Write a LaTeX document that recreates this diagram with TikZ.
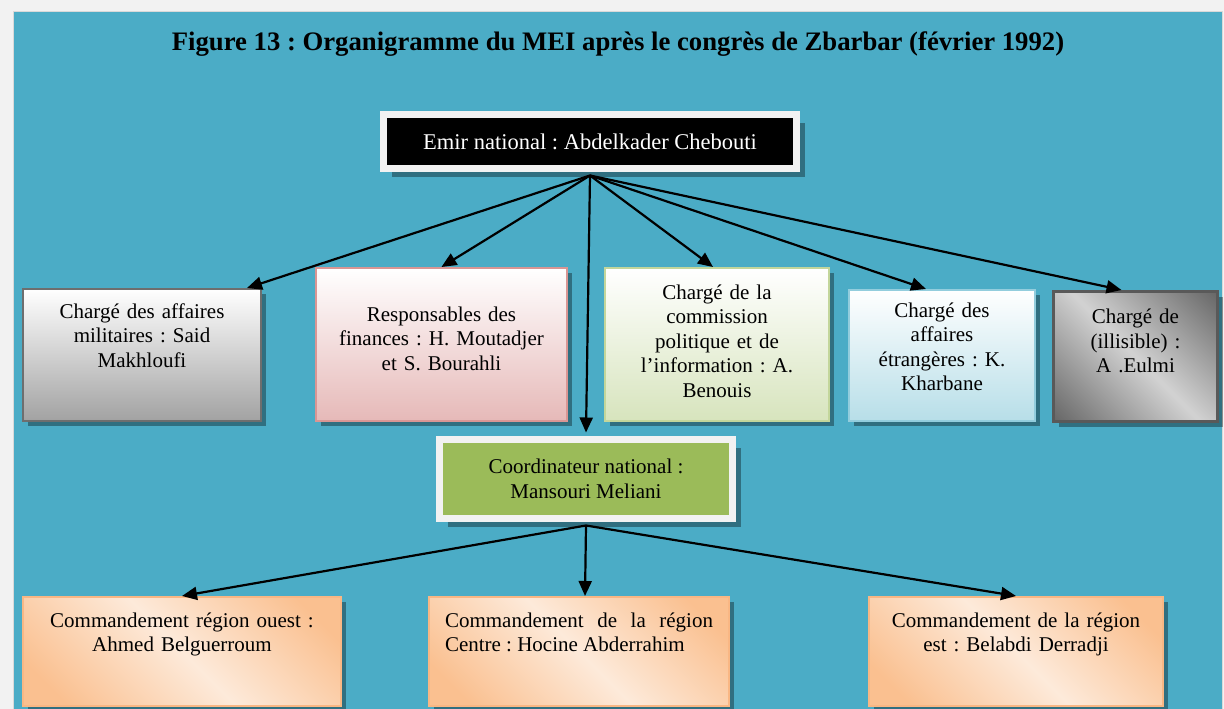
\documentclass[tikz,border=0pt]{standalone}
\usepackage{fontspec}
\setmainfont{Liberation Serif}
\usetikzlibrary{arrows.meta, shadows}

\definecolor{pagegray}{HTML}{F2F2F2}
\definecolor{sheet}{HTML}{4BACC6}
\definecolor{sheetline}{HTML}{D9D9D9}
\definecolor{frame}{HTML}{F2F2F2}
\definecolor{olive}{HTML}{9BBB59}
\definecolor{milgray}{HTML}{A2A2A2}
\definecolor{milline}{HTML}{6E6E6E}
\definecolor{finpink}{HTML}{E6B9B8}
\definecolor{finline}{HTML}{D99694}
\definecolor{polgreen}{HTML}{D7E4BD}
\definecolor{polline}{HTML}{C3D69B}
\definecolor{etrblue}{HTML}{B7DEE8}
\definecolor{etrline}{HTML}{93CDDD}
\definecolor{orA}{HTML}{FAC090}
\definecolor{orB}{HTML}{FDEADA}
\definecolor{orline}{HTML}{F9B784}
\definecolor{grA}{HTML}{5E5E5E}
\definecolor{grB}{HTML}{D2D2D2}
\definecolor{grline}{HTML}{595959}

\pgfdeclarehorizontalshading{orangeband}{100bp}{color(0bp)=(orA); color(22bp)=(orA); color(50bp)=(orB); color(78bp)=(orA); color(100bp)=(orA)}
\pgfdeclarehorizontalshading{grayband}{100bp}{color(0bp)=(grA); color(12bp)=(grA); color(50bp)=(grB); color(88bp)=(grA); color(100bp)=(grA)}

\newcommand\boxfont{\fontsize{21}{24.5}\selectfont}

\tikzset{
  unit/.style={draw, line width=2pt, anchor=north west, inner xsep=8pt, inner ysep=0pt,
    align=center, font=\boxfont, drop shadow={shadow xshift=5pt, shadow yshift=-5pt, fill=black, opacity=0.35}},
  framed/.style={draw=frame, line width=7pt, minimum width=413pt, minimum height=54pt,
    drop shadow={shadow xshift=8pt, shadow yshift=-8pt, fill=black, opacity=0.35}},
  link/.style={line width=2.2pt, -{Triangle[length=15pt,width=13pt]}}
}

\begin{document}
\frenchspacing
\begin{tikzpicture}[x=1pt, y=-1pt]
  \useasboundingbox (0,0) rectangle (1224,709);
  % page and coloured sheet
  \fill[pagegray] (0,0) rectangle (1224,709);
  \filldraw[fill=sheet, draw=sheetline, line width=1pt] (13,12) rectangle (1222,712);

  % title
  \node[font=\fontsize{26.7}{30}\selectfont\bfseries, anchor=base] (title) at (618,51)
    {Figure 13 : Organigramme du MEI après le congrès de Zbarbar (février 1992)};

  % top of the chart
  \node[framed, fill=black, text=white, font=\fontsize{22.5}{26}\selectfont] (emir) at (590,141.5)
    {Emir national : Abdelkader Chebouti};

  % second row
  \node[unit, draw=milline, top color=white, bottom color=milgray,
        text width=222pt, text height=29pt, text depth=103pt] (mil) at (22,288)
    {Chargé des affaires\\ militaires : Said\\ Makhloufi};
  \node[unit, draw=finline, top color=white, bottom color=finpink,
        text width=235pt, text height=53pt, text depth=100pt] (fin) at (315,267)
    {Responsables des\\ finances : H. Moutadjer\\ et S. Bourahli};
  \node[unit, draw=polline, top color=white, bottom color=polgreen,
        text width=208pt, text height=31pt, text depth=122pt] (pol) at (604,267)
    {Chargé de la\\ commission\\ politique et de\\ l’information : A.\\ Benouis};
  \node[unit, draw=etrline, top color=white, bottom color=etrblue,
        text width=170pt, text height=27pt, text depth=104pt] (etr) at (848,289)
    {Chargé des\\ affaires\\ étrangères : K.\\ Kharbane};
  \node[unit, draw=grline, line width=3pt, shading=grayband, shading angle=45,
        text width=148pt, text height=32pt, text depth=98pt] (ill) at (1052,290)
    {Chargé de\\ (illisible) :\\ A .Eulmi};

  % coordinator
  \node[framed, fill=olive, minimum width=293pt, minimum height=79pt, align=center,
        font=\boxfont] (coord) at (586,479)
    {Coordinateur national :\\ Mansouri Meliani};

  % regional commands
  \node[unit, draw=orline, shading=orangeband, shading angle=45,
        text width=302pt, text height=30pt, text depth=79pt] (ouest) at (22,596)
    {Commandement région ouest :\\ Ahmed Belguerroum};
  \node[unit, draw=orline, shading=orangeband, shading angle=45, align=justify,
        inner xsep=16pt, text width=268pt, text height=30pt, text depth=79pt] (centre) at (428,596)
    {Commandement de la région\linebreak Centre : Hocine Abderrahim};
  \node[unit, draw=orline, shading=orangeband, shading angle=45,
        text width=278pt, text height=30pt, text depth=79pt] (est) at (868,596)
    {Commandement de la région\\ est : Belabdi Derradji};

  % arrows from the emir
  \coordinate (emirfoot) at ([yshift=-3.5pt]emir.south);
  \draw[link] (emirfoot) -- ([xshift=-15pt]mil.north east);
  \draw[link] (emirfoot) -- (fin.north);
  \draw[link] (emirfoot) -- ([xshift=-4pt]pol.north);
  \draw[link] (emirfoot) -- ([xshift=-16pt]etr.north);
  \draw[link] (emirfoot) -- ([xshift=-14pt]ill.north);
  \draw[link] (emirfoot) -- ([yshift=3.5pt]coord.north);

  % arrows from the coordinator
  \coordinate (coordfoot) at ([yshift=-3.5pt]coord.south);
  \draw[link] (coordfoot) -- (ouest.north);
  \draw[link] (coordfoot) -- ([xshift=6pt]centre.north);
  \draw[link] (coordfoot) -- (est.north);
\end{tikzpicture}
\end{document}
